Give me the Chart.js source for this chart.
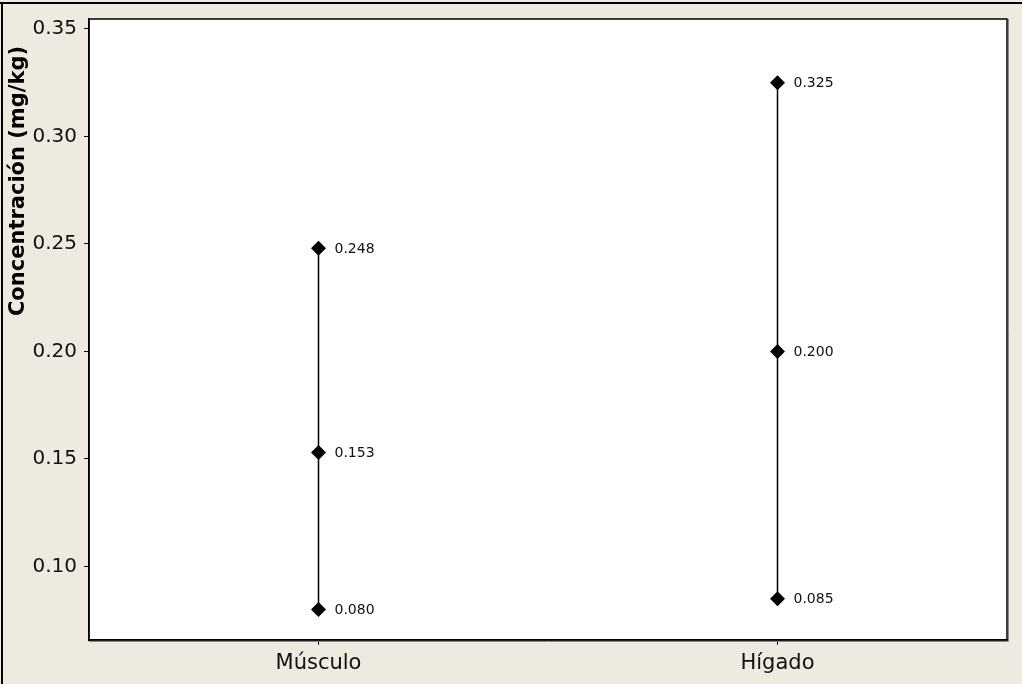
<!DOCTYPE html>
<html>
<head>
<meta charset="utf-8">
<script src="https://cdn.jsdelivr.net/npm/chart.js@4"></script>
<style>
  html, body { margin: 0; padding: 0; background: #eeeae0; }
  #wrap { width: 1022px; height: 684px; position: relative; }
</style>
</head>
<body>
<div id="wrap"><canvas id="intervalChart" width="1022" height="684"></canvas></div>
<script>
// Tissue categories and measured concentrations (mg/kg): min, mean, max
const tissues = ['Músculo', 'Hígado'];
const minValues = [0.080, 0.085];
const meanValues = [0.153, 0.200];
const maxValues = [0.248, 0.325];
const yTicks = [0.10, 0.15, 0.20, 0.25, 0.30, 0.35];
const yTitle = 'Concentración (mg/kg)';

const datasets = tissues.map((name, i) => ({
    label: name,
    data: [
        { x: name, y: minValues[i] },
        { x: name, y: meanValues[i] },
        { x: name, y: maxValues[i] }
    ],
    borderColor: '#000',
    borderWidth: 1.5,
    pointStyle: 'rectRot',
    pointRadius: 7.5,
    pointBackgroundColor: '#000',
    pointBorderColor: '#000',
    pointBorderWidth: 0,
    showLine: true
}));

// Frame, white plot area, axis title and value labels beside each point
const framePlugin = {
    id: 'frame',
    beforeDraw(chart) {
        const ctx = chart.ctx;
        const a = chart.chartArea;
        ctx.save();
        ctx.fillStyle = '#eeeae0';
        ctx.fillRect(0, 0, chart.width, chart.height);
        ctx.fillStyle = '#000';
        ctx.fillRect(0, 2, chart.width, 2);
        ctx.fillRect(1, 2, 2, chart.height);
        ctx.fillStyle = '#fff';
        ctx.fillRect(a.left, a.top, a.right - a.left, a.bottom - a.top);
        ctx.restore();
    },
    afterDraw(chart) {
        const ctx = chart.ctx;
        const a = chart.chartArea;
        ctx.save();
        ctx.strokeStyle = '#888';
        ctx.lineWidth = 1;
        ctx.beginPath();
        ctx.moveTo(a.right + 1.5, a.top);
        ctx.lineTo(a.right + 1.5, a.bottom + 1.5);
        ctx.lineTo(a.left, a.bottom + 1.5);
        ctx.stroke();
        ctx.strokeStyle = '#000';
        ctx.lineWidth = 1.5;
        ctx.strokeRect(a.left, a.top, a.right - a.left, a.bottom - a.top);

        // rotated y-axis title, placed toward the top like the source software
        ctx.save();
        ctx.translate(19, 181);
        ctx.rotate(-Math.PI / 2);
        ctx.fillStyle = '#000';
        ctx.font = 'bold 21px "DejaVu Sans"';
        ctx.textAlign = 'center';
        ctx.textBaseline = 'middle';
        ctx.fillText(yTitle, 0, 0);
        ctx.restore();

        ctx.fillStyle = '#111';
        ctx.font = '14px "DejaVu Sans"';
        ctx.textBaseline = 'middle';
        ctx.textAlign = 'left';
        chart.data.datasets.forEach((ds, di) => {
            chart.getDatasetMeta(di).data.forEach((pt, j) => {
                ctx.fillText(ds.data[j].y.toFixed(3), pt.x + 16, pt.y + 1);
            });
        });
        ctx.restore();
    }
};

new Chart(document.getElementById('intervalChart').getContext('2d'), {
    type: 'line',
    data: { labels: tissues, datasets: datasets },
    options: {
        responsive: false,
        animation: false,
        layout: { padding: { left: 0, top: 14, right: 15, bottom: 0 } },
        plugins: {
            legend: { display: false },
            tooltip: { enabled: false }
        },
        scales: {
            x: {
                type: 'category',
                offset: true,
                grid: {
                    drawOnChartArea: false,
                    drawTicks: true,
                    tickLength: 5,
                    tickColor: '#000',
                    offset: false
                },
                border: { display: true, color: '#000', width: 1.5 },
                ticks: {
                    color: '#111',
                    padding: 6,
                    font: { family: 'DejaVu Sans', size: 21 }
                },
                afterFit(scale) { scale.height = 44; }
            },
            y: {
                min: 0.0658,
                max: 0.3546,
                grid: {
                    drawOnChartArea: false,
                    drawTicks: true,
                    tickLength: 5,
                    tickColor: '#000'
                },
                border: { display: true, color: '#000', width: 1.5 },
                afterBuildTicks(scale) {
                    scale.ticks = yTicks.map(v => ({ value: v }));
                },
                ticks: {
                    color: '#111',
                    padding: 7,
                    font: { family: 'DejaVu Sans', size: 20 },
                    callback: v => v.toFixed(2)
                },
                afterFit(scale) { scale.width = 89; }
            }
        }
    },
    plugins: [framePlugin]
});
</script>
</body>
</html>
